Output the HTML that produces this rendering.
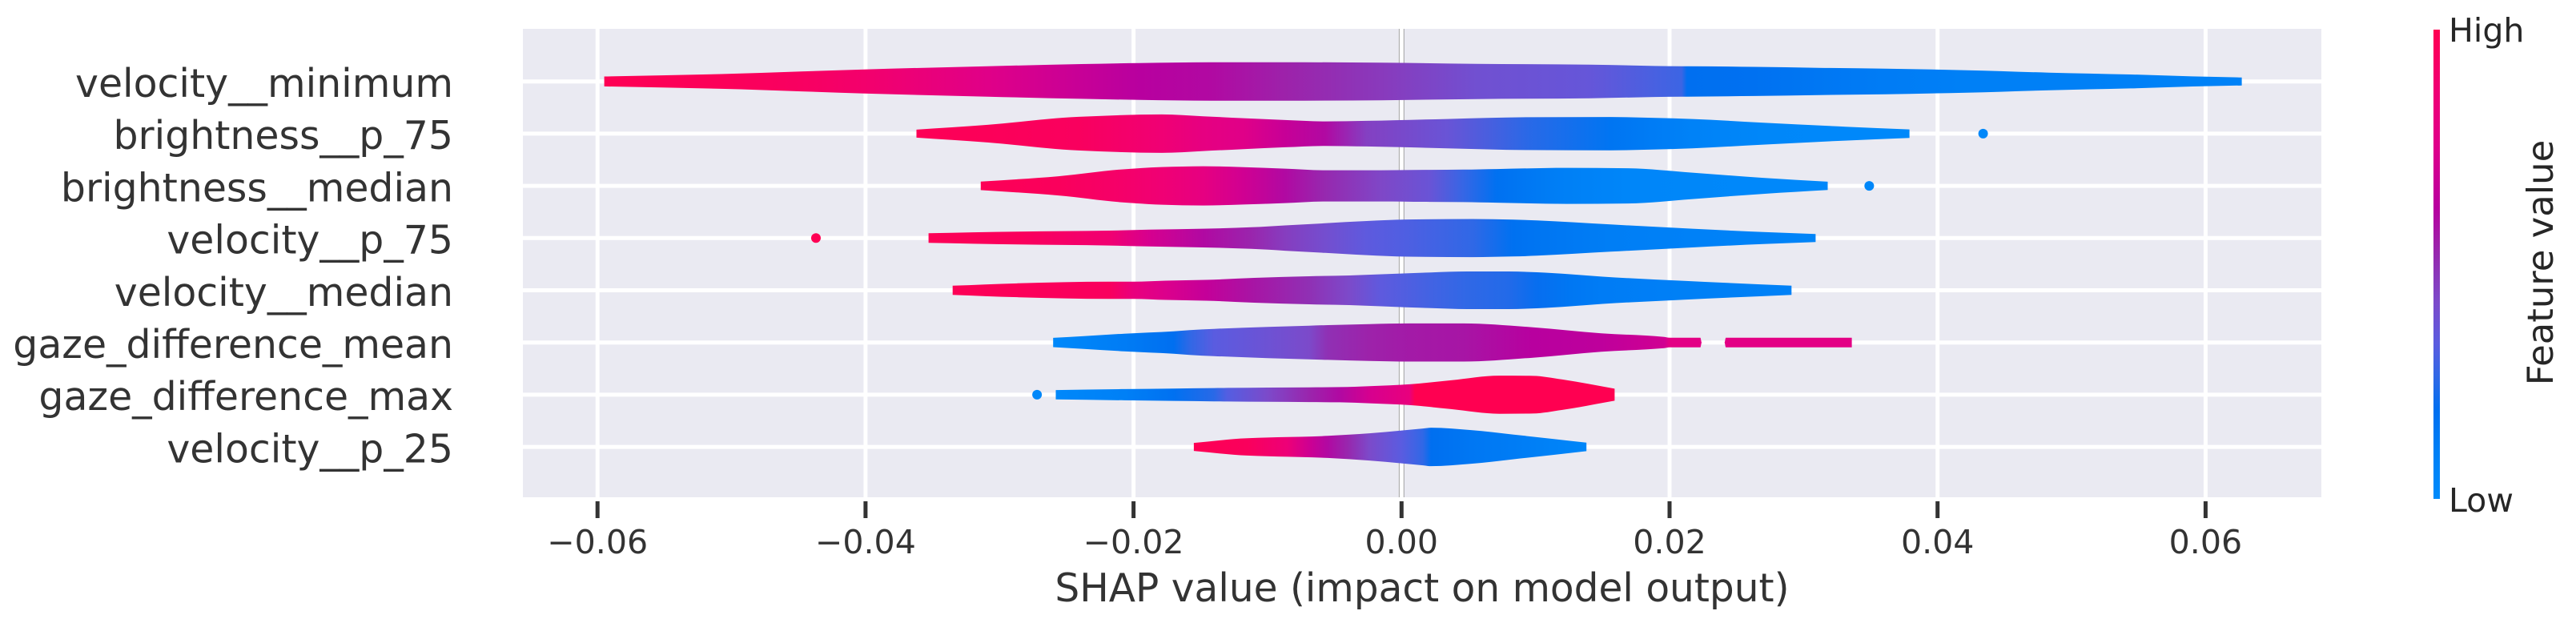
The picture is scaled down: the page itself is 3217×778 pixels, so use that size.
<!DOCTYPE html>
<html lang="en">
<head>
<meta charset="utf-8">
<title>SHAP layered violin summary</title>
<style>
  html, body { margin: 0; padding: 0; background: #ffffff; }
  body { width: 3217px; height: 778px; overflow: hidden; }
  svg { display: block; font-family: "DejaVu Sans", "Liberation Sans", sans-serif; }
</style>
</head>
<body>
<svg id="chart" xmlns="http://www.w3.org/2000/svg" width="3217" height="778" viewBox="0 0 3217 778">
  <defs id="defs"></defs>
  <rect x="653" y="36" width="2246" height="585" fill="#eaeaf2"></rect>
  <g id="grid"></g>
  <g id="violins"></g>
  <g id="dots"></g>
  <g id="xaxis"></g>
  <g id="yaxis"></g>
  <text x="1776" y="751" text-anchor="middle" font-size="48.6" fill="#333333">SHAP value (impact on model output)</text>
  <rect id="colorbar" x="3039" y="37" width="8" height="586"></rect>
  <text x="3058" y="52" font-size="41.1" fill="#262626">High</text>
  <text x="3058" y="639" font-size="41.1" fill="#262626">Low</text>
  <text transform="translate(3188 328) rotate(-90)" text-anchor="middle" font-size="44.9" fill="#262626">Feature value</text>
</svg>
<script>
// Categories and tick labels
const featureNames = ["velocity__minimum", "brightness__p_75", "brightness__median", "velocity__p_75", "velocity__median", "gaze_difference_mean", "gaze_difference_max", "velocity__p_25"];
const xTickValues = [-0.06, -0.04, -0.02, 0, 0.02, 0.04, 0.06];
const xTickLabels = ["\u22120.06", "\u22120.04", "\u22120.02", "0.00", "0.02", "0.04", "0.06"];

// Colour scale (feature value -> colour)
const cmapPositions = [0, 0.1, 0.19, 0.26, 0.33, 0.42, 0.5, 0.55, 0.62, 0.75, 0.87, 1];
const cmapColors = ["#008bfb", "#0080f6", "#006ff0", "#3068e6", "#5a5ce0", "#7c4aca", "#9030b4", "#a01ea8", "#b8009f", "#df008a", "#f00074", "#ff0051"];

// velocity__minimum
const shap0 = [-.0595, -.0508, -.0448, -.0401, -.0309, -.0239, -.0195, -.0142, -.0087, -.0015, .0056, .0141, .0209, .0213, .0263, .0311, .0361, .0422, .0483, .0544, .059, .0627];
const density0 = [.095, .141, .19, .23, .291, .333, .353, .368, .368, .36, .337, .322, .291, .291, .279, .261, .245, .215, .169, .133, .097, .077];
const feature0 = [.99, .97, .94, .9, .76, .67, .62, .6, .54, .47, .39, .36, .28, .19, .18, .15, .12, .1, .1, .09, .08, .08];

// brightness__p_75
const shap1 = [-.0362, -.0309, -.0241, -.0179, -.0148, -.0118, -.0087, -.0057, -.0026, .0034, .0095, .0156, .0187, .0217, .027, .0331, .0379];
const density1 = [.077, .169, .322, .368, .333, .296, .261, .235, .245, .281, .314, .319, .304, .281, .21, .133, .081];
const feature1 = [.98, .97, .95, .87, .8, .76, .67, .6, .45, .37, .25, .16, .12, .08, .04, .03, .03];

// brightness__median
const shap2 = [-.0314, -.0256, -.0209, -.0179, -.0148, -.0118, -.0087, -.0057, -.0015, .0021, .0046, .0071, .0123, .0169, .0217, .027, .0318];
const density2 = [.081, .184, .314, .36, .376, .357, .33, .299, .299, .307, .311, .322, .345, .337, .253, .153, .08];
const feature2 = [.98, .96, .91, .87, .8, .7, .6, .52, .43, .37, .27, .18, .1, .05, .04, .03, .03];

// velocity__p_75
const shap3 = [-.0353, -.0286, -.0218, -.0188, -.0148, -.0112, -.0087, -.0057, -.0026, .0004, .0053, .0083, .0101, .0156, .0217, .027, .0309];
const density3 = [.092, .123, .143, .161, .179, .207, .242, .284, .327, .356, .365, .353, .337, .261, .179, .115, .077];
const feature3 = [.98, .96, .88, .72, .6, .53, .46, .4, .34, .31, .26, .18, .16, .11, .09, .08, .06];

// velocity__median
const shap4 = [-.0335, -.0286, -.0218, -.02, -.0176, -.0146, -.011, -.0069, -.0039, -.0015, .0022, .0049, .008, .0101, .0126, .015, .0211, .0291];
const density4 = [.087, .133, .164, .164, .184, .199, .238, .268, .284, .307, .342, .36, .36, .345, .307, .261, .179, .087];
const feature4 = [.98, .97, .95, .82, .74, .66, .57, .5, .42, .34, .29, .26, .24, .2, .15, .12, .1, .09];

// gaze_difference_mean
const shap5 = [-.026, -.0237, -.0207, -.017, -.0158, -.014, -.01, -.0069, -.0055, -.0024, .0006, .0046, .0098, .0149, .0196, .02, .0223, .0224, .0241, .0242, .0336];
const density5 = [.089, .123, .169, .215, .238, .261, .299, .322, .333, .353, .365, .365, .291, .176, .107, .092, .092, 0, 0, .092, .092];
const feature5 = [.03, .06, .12, .19, .26, .33, .38, .42, .5, .54, .56, .57, .62, .64, .7, .78, .78, .78, .78, .78, .78];

// gaze_difference_max
const shap6 = [-.0258, -.0207, -.017, -.014, -.013, -.01, -.0069, -.0046, -.0024, .0006, .001, .0037, .0073, .0098, .012, .0159];
const density6 = [.089, .107, .118, .127, .13, .136, .141, .146, .164, .199, .207, .276, .365, .36, .291, .115];
const feature6 = [.03, .1, .18, .25, .32, .42, .53, .6, .72, .82, 1, 1, 1, 1, 1, 1];

// velocity__p_25
const shap7 = [-.0155, -.0115, -.0085, -.0067, -.0055, -.0039, -.0024, 0, .0016, .0022, .0052, .0083, .0113, .0138];
const density7 = [.077, .166, .189, .199, .212, .235, .261, .314, .353, .368, .322, .238, .153, .081];
const feature7 = [.99, .96, .85, .68, .6, .52, .42, .33, .26, .19, .15, .12, .08, .05];

// Isolated points
const outlierRows = [1, 2, 3, 6];
const outlierShap = [.0434, .0349, -.0437, -.0272];
const outlierFeature = [.04, .04, .99, .04];

const shapSeries = [shap0, shap1, shap2, shap3, shap4, shap5, shap6, shap7];
const densitySeries = [density0, density1, density2, density3, density4, density5, density6, density7];
const featureSeries = [feature0, feature1, feature2, feature3, feature4, feature5, feature6, feature7];

const NS = "http://www.w3.org/2000/svg";
function xScale(v) { return 1750.3 + 16735 * v; }
function yScale(row) { return 101.7 + 65.2 * row; }
function widthScale(d) { return 65.2 * d; }
function make(tag, attrs, parent) {
  const el = document.createElementNS(NS, tag);
  for (const k in attrs) el.setAttribute(k, attrs[k]);
  parent.appendChild(el);
  return el;
}
function hexToRgb(h) {
  return [parseInt(h.slice(1, 3), 16), parseInt(h.slice(3, 5), 16), parseInt(h.slice(5, 7), 16)];
}
function colorAt(t) {
  const v = Math.max(0, Math.min(1, t));
  let i = 0;
  while (i < cmapPositions.length - 2 && v > cmapPositions[i + 1]) i++;
  const f = (v - cmapPositions[i]) / (cmapPositions[i + 1] - cmapPositions[i]);
  const a = hexToRgb(cmapColors[i]);
  const b = hexToRgb(cmapColors[i + 1]);
  return "rgb(" + a.map(function (c, k) { return Math.round(c + (b[k] - c) * f); }).join(",") + ")";
}
function slug(s) { return s.replace(/_+/g, "-"); }

// Monotone tangents so the violin outline stays rounded without overshooting
function tangents(px, h) {
  const n = px.length;
  const d = [];
  for (let i = 0; i < n - 1; i++) d.push((h[i + 1] - h[i]) / (px[i + 1] - px[i]));
  const m = [d[0]];
  for (let i = 1; i < n - 1; i++) {
    if (d[i - 1] * d[i] <= 0) { m.push(0); continue; }
    const w1 = 2 * (px[i + 1] - px[i]) + (px[i] - px[i - 1]);
    const w2 = (px[i + 1] - px[i]) + 2 * (px[i] - px[i - 1]);
    m.push((w1 + w2) / (w1 / d[i - 1] + w2 / d[i]));
  }
  m.push(d[n - 2]);
  return m;
}
function violinPath(px, h, yc) {
  const m = tangents(px, h);
  const n = px.length;
  let p = "M" + px[0].toFixed(1) + " " + (yc - h[0]).toFixed(1);
  for (let i = 0; i < n - 1; i++) {
    const dx = (px[i + 1] - px[i]) / 3;
    p += "C" + (px[i] + dx).toFixed(1) + " " + (yc - h[i] - m[i] * dx).toFixed(1) + " " +
         (px[i + 1] - dx).toFixed(1) + " " + (yc - h[i + 1] + m[i + 1] * dx).toFixed(1) + " " +
         px[i + 1].toFixed(1) + " " + (yc - h[i + 1]).toFixed(1);
  }
  p += "L" + px[n - 1].toFixed(1) + " " + (yc + h[n - 1]).toFixed(1);
  for (let i = n - 2; i >= 0; i--) {
    const dx = (px[i + 1] - px[i]) / 3;
    p += "C" + (px[i + 1] - dx).toFixed(1) + " " + (yc + h[i + 1] - m[i + 1] * dx).toFixed(1) + " " +
         (px[i] + dx).toFixed(1) + " " + (yc + h[i] + m[i] * dx).toFixed(1) + " " +
         px[i].toFixed(1) + " " + (yc + h[i]).toFixed(1);
  }
  return p + "Z";
}

const defs = document.getElementById("defs");
const grid = document.getElementById("grid");
const violins = document.getElementById("violins");
const dots = document.getElementById("dots");
const xaxis = document.getElementById("xaxis");
const yaxis = document.getElementById("yaxis");

// Zero reference line, drawn beneath the white grid
const zeroLine = make("line", { x1: xScale(0), x2: xScale(0), y1: 36, y2: 621, stroke: "#999999", "stroke-width": 6.8 }, grid);



// Horizontal grid lines and feature labels
featureNames.forEach(function (name, row) {
  const gl = make("line", { x1: 653, x2: 2899, y1: yScale(row), y2: yScale(row), stroke: "#ffffff", "stroke-width": 5 }, grid);
  
  
  const lab = make("text", { x: 566, y: yScale(row) + 19.3, "text-anchor": "end", "font-size": 48.9, fill: "#333333" }, yaxis);
  lab.textContent = name;
  
  
});

// Vertical grid lines, ticks and tick labels
xTickValues.forEach(function (v, i) {
  const gl = make("line", { x1: xScale(v), x2: xScale(v), y1: 36, y2: 621, stroke: "#ffffff", "stroke-width": 5 }, grid);
  
  
  const tick = make("line", { x1: xScale(v), x2: xScale(v), y1: 626, y2: 647, stroke: "#333333", "stroke-width": 5 }, xaxis);
  
  
  const lab = make("text", { x: xScale(v), y: 691, "text-anchor": "middle", "font-size": 41.1, fill: "#333333" }, xaxis);
  lab.textContent = xTickLabels[i];
  
  
});

// Violins
featureNames.forEach(function (name, row) {
  const xs = shapSeries[row];
  const ds = densitySeries[row];
  const fs = featureSeries[row];
  const px = xs.map(xScale);
  const hs = ds.map(widthScale);
  const x0 = px[0];
  const x1 = px[px.length - 1];
  const grad = make("linearGradient", { id: "grad" + row, gradientUnits: "userSpaceOnUse", x1: x0, x2: x1, y1: 0, y2: 0 }, defs);
  px.forEach(function (p, i) {
    make("stop", { offset: (p - x0) / (x1 - x0), "stop-color": colorAt(fs[i]) }, grad);
  });
  const shape = make("path", { d: violinPath(px, hs, yScale(row)), fill: "url(#grad" + row + ")" }, violins);
  
  
});

// Outlier points
outlierRows.forEach(function (row, i) {
  const c = make("circle", { cx: xScale(outlierShap[i]), cy: yScale(row), r: 6, fill: colorAt(outlierFeature[i]) }, dots);
  
  
});

// Colour bar gradient
const cbGrad = make("linearGradient", { id: "cbGrad", x1: 0, x2: 0, y1: 1, y2: 0 }, defs);
cmapPositions.forEach(function (p, i) {
  make("stop", { offset: p, "stop-color": cmapColors[i] }, cbGrad);
});
document.getElementById("colorbar").setAttribute("fill", "url(#cbGrad)");
</script>
</body>
</html>
